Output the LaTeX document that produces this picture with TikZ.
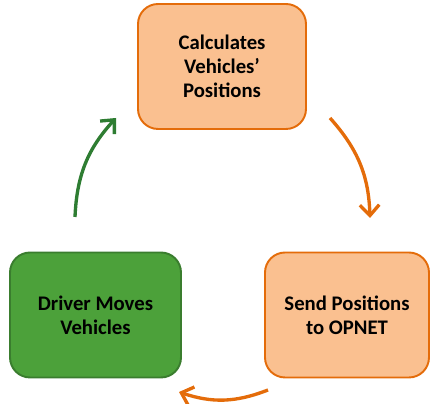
\documentclass[tikz,border=0pt]{standalone}
\usepackage{fontspec}
\setmainfont{Carlito}
\usepackage{tikz}
\usetikzlibrary{arrows.meta}

\definecolor{boxorange}{RGB}{250,192,144}
\definecolor{lineorange}{RGB}{228,108,10}
\definecolor{boxgreen}{RGB}{76,161,58}
\definecolor{linegreen}{RGB}{58,125,46}
\definecolor{arrowgreen}{RGB}{46,125,50}

\begin{document}
\begin{tikzpicture}[x=0.02cm, y=0.02cm,
  stepbox/.style={rounded corners=0.4cm, line width=1.1pt, align=center,
    font=\fontsize{11.8}{13.6}\selectfont\bfseries, minimum height=2.5cm},
  orangebox/.style={stepbox, draw=lineorange, fill=boxorange},
  greenbox/.style={stepbox, draw=linegreen, fill=boxgreen},
  cycle/.style={line width=1.9pt, -{Straight Barb[length=6pt, width=11pt, line width=1.9pt]}}]
\useasboundingbox (0,0) rectangle (430,404);

\node (CALC) at (222,337.5) [orangebox, minimum width=3.36cm] {Calculates\\Vehicles'\\Positions};
\node (SEND) at (347,89) [orangebox, minimum width=3.28cm] {Send Positions\\to OPNET};
\node (DRV) at (95.5,89) [greenbox, minimum width=3.42cm] {Driver Moves\\Vehicles};

\coordinate (G1) at (75,187); \coordinate (G2) at (116,286);
\coordinate (R1) at (330,286); \coordinate (R2) at (370,186);
\coordinate (B1) at (268,14); \coordinate (B2) at (179,12);
\draw [cycle, draw=arrowgreen] (G1) to [bend left=20] (G2);
\draw [cycle, draw=lineorange] (R1) to [bend left=20] (R2);
\draw [cycle, draw=lineorange] (B1) to [bend left=20] (B2);

\end{tikzpicture}
\end{document}
